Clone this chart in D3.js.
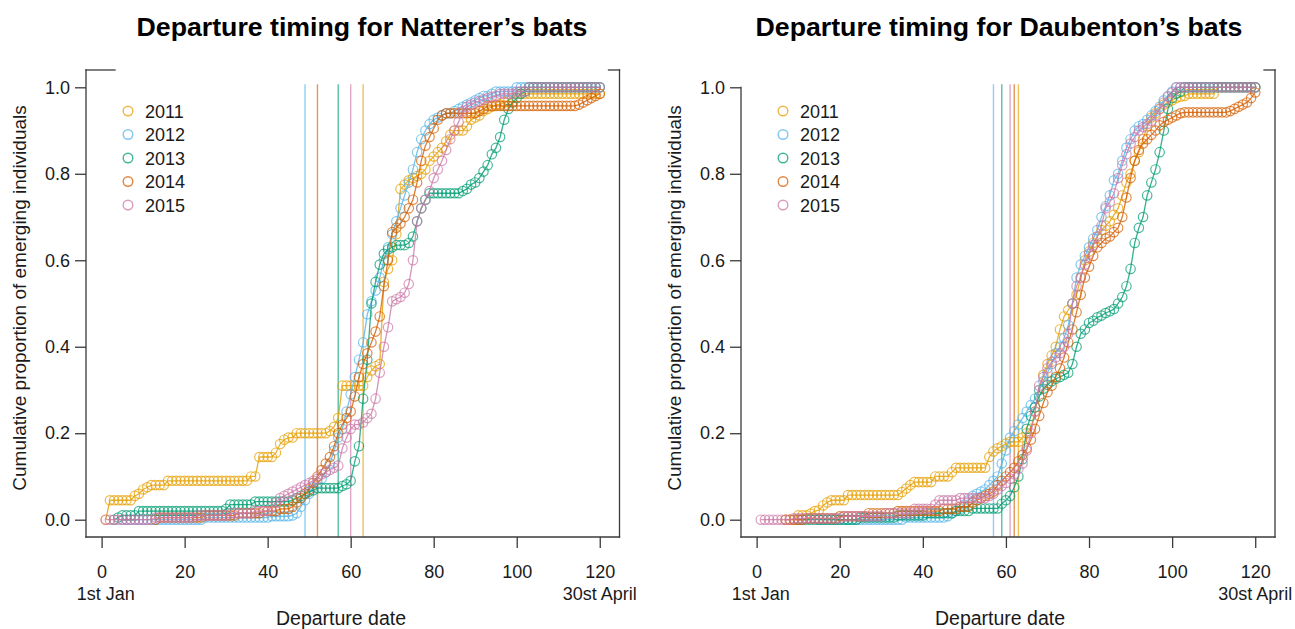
<!DOCTYPE html>
<html>
<head>
<meta charset="utf-8">
<script src="https://cdn.jsdelivr.net/npm/d3@7"></script>
<style>
  body { margin: 0; background: #fff; }
  text { font-family: "Liberation Sans", Arial, sans-serif; fill: #1a1a1a; }
</style>
</head>
<body>
<div id="chart"></div>
<script>
// years and colours
const years = ['2011', '2012', '2013', '2014', '2015'];
const colors = ['#E69F00', '#56B4E9', '#009E73', '#D55E00', '#CC79A7'];
const xTicks = [0, 20, 40, 60, 80, 100, 120];
const yTicks = [0, 0.2, 0.4, 0.6, 0.8, 1.0];

// Natterer's bats: first day of each series and cumulative proportion per day
const natStart = [1, 5, 3, 13, 1];
const nat2011 = [0,
  0.045,0.045,0.045,0.045,0.045,0.045,
  0.055,0.06,0.07,0.075,
  0.08,0.08,0.08,0.08,
  0.09,0.09,0.09,0.09,0.09,0.09,0.09,0.09,0.09,0.09,
  0.09,0.09,0.09,0.09,0.09,0.09,0.09,0.09,0.09,0.09,
  0.1,0.1,
  0.145,0.145,0.145,0.145,
  0.155,0.175,0.185,0.19,0.19,
  0.2,0.2,0.2,0.2,0.2,0.2,0.2,0.2,
  0.205,0.215,0.235,
  0.31,0.31,0.31,0.31,0.31,0.31,
  0.33,0.345,0.355,0.36,0.55,0.58,0.6,0.66,0.765,0.775,
  0.785,0.79,0.795,0.8,0.81,0.83,0.84,0.85,0.86,0.875,
  0.89,0.9,0.9,0.9,0.91,0.925,0.93,0.935,0.945,0.95,
  0.955,0.96,0.96,0.965,0.97,0.975,
  0.985,0.985,0.985,0.985,0.985,0.985,0.985,0.985,0.985,0.985,
  0.985,0.985,0.985,0.985,0.985,0.985,0.985,0.985,0.985,0.985,0.985];
const nat2012 = [
  0,0,0,0,0,0,0,0,0,0,0,0,0,0,0,0,0,0,0,0,
  0.005,0.005,0.005,0.005,0.005,0.005,0.005,0.005,
  0.005,0.005,0.005,0.005,0.005,0.005,0.005,0.005,
  0.008,0.008,0.008,0.008,0.008,
  0.01,0.015,0.03,0.045,0.06,0.075,0.085,0.095,0.11,0.13,
  0.16,0.19,0.21,0.25,0.29,0.33,0.37,0.41,0.475,0.505,
  0.53,0.56,0.6,0.63,0.66,0.69,0.72,0.75,0.78,0.81,
  0.85,0.88,0.9,0.915,0.925,0.93,0.935,0.94,0.94,0.945,
  0.95,0.955,0.96,0.965,0.97,0.975,0.98,0.98,0.985,0.99,
  0.99,0.99,0.99,0.99,
  1,1,1,1,1,1,1,1,1,1,1,1,1,1,1,1,1,1,1,1,1];
const nat2013 = [0,0.005,
  0.01,0.01,0.01,0.01,
  0.02,0.02,0.02,0.02,0.02,0.02,0.02,0.02,0.02,0.02,0.02,
  0.02,0.02,0.02,0.02,0.02,0.02,0.02,0.02,0.02,0.02,
  0.025,
  0.035,0.035,0.035,0.035,0.035,0.035,
  0.042,0.042,0.042,0.042,0.042,0.042,0.042,0.042,0.042,
  0.045,0.05,0.055,0.06,0.065,0.068,
  0.073,0.073,0.073,0.073,0.073,0.073,
  0.078,0.082,0.09,0.135,0.17,0.28,0.37,0.5,0.55,0.59,
  0.615,0.625,0.63,0.635,0.635,0.635,0.64,0.655,0.69,0.72,0.74,
  0.755,0.755,0.755,0.755,0.755,0.755,0.755,0.755,
  0.76,0.765,0.775,0.78,0.79,0.805,0.82,0.845,0.86,0.885,
  0.925,0.95,0.965,0.975,0.985,0.99,
  1,1,1,1,1,1,1,1,1,1,1,1,1,1,1,1,1,1];
const nat2014 = [0,
  0.005,0.005,0.005,0.005,0.005,0.005,0.005,0.005,0.005,0.005,0.005,
  0.01,0.01,0.01,0.01,0.01,0.01,0.01,0.01,
  0.015,0.015,0.015,0.015,0.015,0.015,
  0.02,0.02,0.02,0.02,
  0.025,0.025,0.025,
  0.03,0.04,0.05,0.06,0.07,0.085,0.1,0.115,0.13,0.145,
  0.17,0.2,0.22,0.235,0.25,0.285,0.33,0.36,0.385,0.41,
  0.435,0.47,0.54,0.6,0.665,0.675,0.685,0.7,0.72,0.74,
  0.78,0.83,0.865,0.885,0.905,0.925,0.935,
  0.94,0.94,0.94,0.94,0.94,0.94,0.94,0.94,
  0.945,0.95,
  0.957,0.957,0.957,0.957,0.957,0.957,0.957,0.957,0.957,0.957,0.957,
  0.957,0.957,0.957,0.957,0.957,0.957,0.957,0.957,0.957,0.957,0.957,
  0.96,0.965,0.97,0.975,0.98,0.985];
const nat2015 = [
  0,0,0,0,0,0,0,0,0,0,0,0,
  0.005,0.005,0.005,0.005,0.005,0.005,0.005,0.005,0.005,0.005,
  0.01,0.01,0.01,0.01,0.01,0.01,0.01,0.01,
  0.015,0.015,0.015,0.015,0.015,0.015,
  0.02,0.02,0.02,0.02,
  0.03,0.04,0.05,0.055,0.06,0.065,0.07,0.075,0.08,0.085,
  0.09,0.095,0.105,0.11,0.115,0.12,0.125,0.165,0.19,0.21,
  0.22,0.22,0.225,0.235,0.245,0.28,0.34,0.4,0.445,0.505,
  0.51,0.515,0.525,0.545,0.6,0.69,0.72,0.74,0.76,0.79,
  0.81,0.83,0.855,0.88,0.9,0.92,0.945,0.955,0.96,0.965,
  0.968,0.972,0.975,0.978,0.98,
  0.985,0.985,0.985,0.985,
  0.99,0.99,0.99,
  1,1,1,1,1,1,1,1,1,1,1,1,1,1,1,1,1,1];
const natMedian = [63, 49, 57, 52, 60];

// Daubenton's bats
const dauStart = [7, 15, 10, 7, 1];
const dau2011 = [0,0,0,
  0.01,0.01,0.01,
  0.014,0.02,0.022,0.033,0.04,
  0.045,0.045,0.045,0.045,
  0.057,0.057,0.057,0.057,0.057,0.057,0.057,0.057,0.057,0.057,0.057,0.057,0.057,
  0.064,0.072,0.08,
  0.087,0.087,0.087,0.087,0.087,
  0.1,0.1,0.1,0.1,
  0.11,
  0.12,0.12,0.12,0.12,0.12,0.12,0.12,0.12,
  0.145,0.158,0.165,0.17,0.176,
  0.18,0.18,0.18,
  0.19,0.2,0.21,0.25,0.3,0.335,0.36,0.38,0.4,0.44,
  0.47,0.485,0.5,0.52,0.56,0.6,0.62,0.64,0.655,0.67,
  0.68,0.69,0.705,0.72,0.75,0.78,0.8,0.83,0.85,0.88,
  0.91,0.93,0.94,0.95,0.96,0.965,0.97,0.975,0.978,0.98,
  0.985,0.985,0.985,0.985,0.985,0.985,0.985,
  1,1,1,1,1,1,1,1,1,1];
const dau2012 = [
  0,0,0,0,0,0,0,0,0,0,0,0,0,0,0,0,0,0,0,0,0,
  0.005,0.005,0.005,0.005,0.005,0.005,0.005,0.005,0.005,0.005,
  0.008,0.015,0.02,0.025,0.035,0.045,0.055,0.06,0.065,0.07,
  0.08,0.09,0.1,0.13,0.16,0.19,0.205,0.22,0.235,0.25,
  0.265,0.28,0.3,0.32,0.34,0.36,0.385,0.4,0.42,0.45,
  0.5,0.56,0.59,0.61,0.63,0.65,0.67,0.7,0.725,0.75,
  0.785,0.8,0.83,0.86,0.88,0.9,0.91,0.915,0.925,0.935,
  0.945,0.955,0.97,0.98,0.99,
  1,1,1,1,1,1,1,1,1,1,1,1,1,1,1,1,1,1,1,1];
const dau2013 = [
  0,0,0,0,0,0,0,0,0,0,0,0,0,0,0,
  0.005,0.005,0.005,0.005,0.005,0.005,0.005,0.005,0.005,
  0.01,0.01,0.01,0.01,0.01,0.01,0.01,
  0.015,0.015,0.015,0.015,0.015,0.015,0.015,
  0.02,0.02,0.02,0.02,
  0.026,0.026,0.026,0.026,0.026,0.026,0.026,
  0.037,0.045,0.055,0.075,0.1,0.14,0.21,0.24,0.26,0.285,
  0.303,0.312,0.32,0.326,0.33,0.335,0.34,0.36,0.4,0.43,
  0.44,0.455,0.46,0.468,0.472,0.478,0.482,0.487,0.5,0.515,
  0.54,0.58,0.64,0.675,0.7,0.75,0.78,0.81,0.85,0.9,
  0.95,0.975,0.985,0.99,
  1,1,1,1,1,1,1,1,1,1,1,1,1,1,1,1,1,1];
const dau2014 = [
  0,0,0,0,0,
  0.003,0.003,0.003,0.003,0.003,0.003,0.003,0.003,
  0.008,0.008,0.008,0.008,0.008,0.008,0.008,
  0.015,0.015,0.015,0.015,0.015,0.015,0.015,
  0.02,0.02,0.02,0.02,0.02,0.02,0.02,0.02,0.02,0.02,0.02,
  0.025,0.025,0.025,0.025,
  0.03,0.03,0.03,
  0.04,0.045,0.05,0.055,0.06,0.065,0.08,0.09,0.1,0.11,
  0.12,0.135,0.15,0.165,0.185,0.21,0.24,0.27,0.295,0.31,
  0.33,0.35,0.375,0.41,0.44,0.48,0.52,0.56,0.585,0.61,
  0.63,0.64,0.65,0.655,0.665,0.675,0.7,0.745,0.79,0.83,
  0.855,0.87,0.88,0.89,0.9,0.912,0.92,0.925,0.93,0.935,0.94,
  0.942,0.942,0.942,0.942,0.942,0.942,0.942,0.942,0.942,0.942,0.942,
  0.945,0.95,0.955,0.96,0.965,0.975,0.988];
const dau2015 = [
  0,0,0,0,0,0,0,0,
  0.003,0.003,0.003,0.003,0.003,0.003,0.003,0.003,0.003,0.003,0.003,0.003,
  0.008,0.008,0.008,0.008,0.008,0.008,0.008,0.008,0.008,0.008,
  0.015,0.015,0.015,0.015,0.015,0.015,0.015,
  0.025,0.025,0.025,0.025,0.025,
  0.035,
  0.045,0.045,0.045,0.045,0.045,
  0.05,0.05,0.05,0.05,0.05,0.05,0.05,
  0.055,0.06,0.07,0.078,0.085,0.095,0.105,0.118,0.13,0.16,
  0.2,0.25,0.31,0.33,0.35,0.365,0.375,0.385,0.4,0.43,
  0.5,0.54,0.56,0.59,0.615,0.635,0.655,0.68,0.72,0.735,
  0.755,0.79,0.82,0.845,0.87,0.885,0.9,0.908,0.915,0.922,
  0.935,0.95,0.965,0.978,0.988,
  1,1,1,1,1,1,1,1,1,1,1,1,1,1,1,1,1,1,1,1];
const dauMedian = [63, 57, 59, 62, 61];

// panel layout
const width = 1295;
const height = 629;
const panels = [
  { title: 'Departure timing for Natterer\u2019s bats', titleX: 362, labelX: 341, yLabelX: 26,
    left: 86, right: 619.5, legendX: 128, fullLeftAxis: true,
    start: natStart, series: [nat2011, nat2012, nat2013, nat2014, nat2015], median: natMedian },
  { title: 'Departure timing for Daubenton\u2019s bats', titleX: 999, labelX: 1000, yLabelX: 681,
    left: 741, right: 1275, legendX: 783, fullLeftAxis: false,
    start: dauStart, series: [dau2011, dau2012, dau2013, dau2014, dau2015], median: dauMedian }
];
const plotTop = 70, plotBottom = 537;
const axisColor = '#3a3a3a';

const svg = d3.select('#chart')
  .append('svg')
  .attr('width', width)
  .attr('height', height);

const yScale = d3.scaleLinear().domain([-0.04, 1.04]).range([plotBottom, plotTop]);

panels.forEach((p) => {
  const xScale = d3.scaleLinear().domain([-3.76, 124.76]).range([p.left, p.right]);
  const g = svg.append('g');

  // title
  g.append('text')
    .attr('x', p.titleX)
    .attr('y', 36)
    .attr('text-anchor', 'middle')
    .style('font-size', '26.7px')
    .style('font-weight', 'bold')
    .style('fill', '#000')
    .text(p.title);

  // median departure lines
  g.selectAll('line.median')
    .data(p.median)
    .enter()
    .append('line')
    .attr('class', 'median')
    .attr('x1', (d) => xScale(d))
    .attr('x2', (d) => xScale(d))
    .attr('y1', plotBottom)
    .attr('y2', yScale(1.007))
    .style('stroke', (d, i) => colors[i])
    .style('stroke-opacity', 0.65)
    .style('stroke-width', 1.4);

  // series: line + open circles
  const line = d3.line()
    .x((d) => xScale(d.day))
    .y((d) => yScale(d.value));

  p.series.forEach((values, i) => {
    const pts = values.map((v, k) => ({ day: p.start[i] + k, value: v }));
    g.append('path')
      .datum(pts)
      .attr('d', line)
      .style('fill', 'none')
      .style('stroke', colors[i])
      .style('stroke-opacity', 0.8)
      .style('stroke-width', 1.3);
    g.append('g')
      .selectAll('circle')
      .data(pts)
      .enter()
      .append('circle')
      .attr('cx', (d) => xScale(d.day))
      .attr('cy', (d) => yScale(d.value))
      .attr('r', 4.7)
      .style('fill', 'none')
      .style('stroke', colors[i])
      .style('stroke-opacity', 0.72)
      .style('stroke-width', 1.2);
  });

  // axes
  const xAxis = d3.axisBottom(xScale).tickValues(xTicks).tickSize(11).tickPadding(17);
  const yAxis = d3.axisLeft(yScale).tickValues(yTicks).tickSize(11).tickPadding(5)
    .tickFormat(d3.format('.1f'));

  const gx = g.append('g')
    .attr('transform', `translate(0, ${plotBottom})`)
    .call(xAxis);
  const gy = g.append('g')
    .attr('transform', `translate(${p.left}, 0)`)
    .call(yAxis);
  [gx, gy].forEach((a) => {
    a.select('.domain').remove();
    a.selectAll('line').style('stroke', axisColor).style('stroke-width', 1.3);
    a.selectAll('text').style('font-size', '18px').style('fill', '#1a1a1a')
      .style('font-family', '"Liberation Sans", Arial, sans-serif');
  });

  // frame (partial top edge as in the original)
  const frame = [
    [p.left, plotBottom, p.right, plotBottom],
    [p.right, plotBottom, p.right, plotTop],
    [p.left, plotBottom, p.left, p.fullLeftAxis ? plotTop : yScale(1)],
    [p.right - 11, plotTop, p.right, plotTop]
  ];
  if (p.fullLeftAxis) frame.push([p.left, plotTop, p.left + 29, plotTop]);
  g.selectAll('line.frame')
    .data(frame)
    .enter()
    .append('line')
    .attr('class', 'frame')
    .attr('x1', (d) => d[0]).attr('y1', (d) => d[1])
    .attr('x2', (d) => d[2]).attr('y2', (d) => d[3])
    .style('stroke', axisColor)
    .style('stroke-width', 1.3)
    .style('stroke-linecap', 'square');

  // date hints under the axis
  g.append('text')
    .attr('x', xScale(1)).attr('y', 600)
    .attr('text-anchor', 'middle')
    .style('font-size', '18px')
    .text('1st Jan');
  g.append('text')
    .attr('x', xScale(120)).attr('y', 600)
    .attr('text-anchor', 'middle')
    .style('font-size', '18px')
    .text('30st April');

  // axis titles
  g.append('text')
    .attr('x', p.labelX).attr('y', 625)
    .attr('text-anchor', 'middle')
    .style('font-size', '19.5px')
    .text('Departure date');
  g.append('text')
    .attr('transform', `translate(${p.yLabelX}, 298) rotate(-90)`)
    .attr('text-anchor', 'middle')
    .style('font-size', '19px')
    .text('Cumulative proportion of emerging individuals');

  // legend
  const leg = g.append('g')
    .selectAll('g')
    .data(years)
    .enter()
    .append('g')
    .attr('transform', (d, i) => `translate(${p.legendX}, ${111 + i * 23.5})`);
  leg.append('circle')
    .attr('r', 4.8)
    .style('fill', 'none')
    .style('stroke', (d, i) => colors[i])
    .style('stroke-opacity', 0.75)
    .style('stroke-width', 1.4);
  leg.append('text')
    .attr('x', 17)
    .attr('y', 6.5)
    .style('font-size', '18px')
    .text((d) => d);
});
</script>
</body>
</html>
